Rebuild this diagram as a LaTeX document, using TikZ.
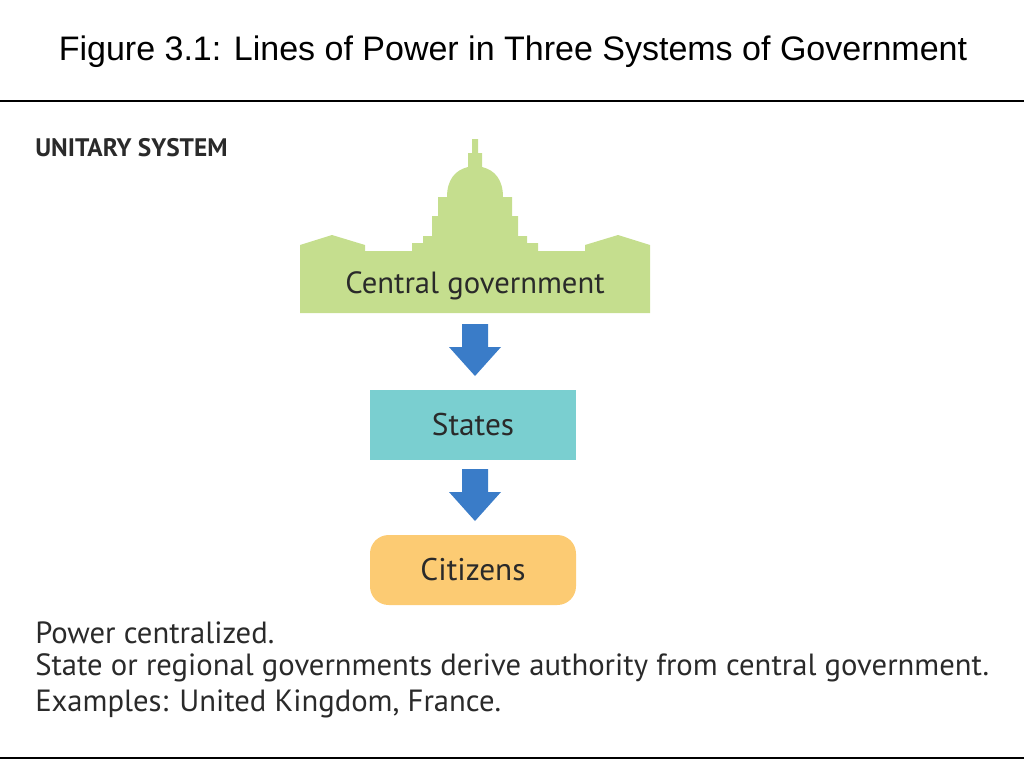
\documentclass[tikz,border=0pt]{standalone}
\usepackage{fontspec}
\setmainfont{Liberation Sans}
\newfontfamily\bodyf{PT Sans}
\usetikzlibrary{arrows.meta}
\definecolor{capg}{HTML}{C5DE8E}
\definecolor{stat}{HTML}{7ACFD0}
\definecolor{citz}{HTML}{FCCB73}
\definecolor{arr}{HTML}{3A7CC8}
\definecolor{txt}{HTML}{2A2A2A}
\tikzset{
  body/.style={font=\bodyf\fontsize{23}{27}\selectfont, text=txt},
  blk/.style={minimum width=154.5pt, minimum height=52.5pt, inner sep=0pt, font=\bodyf\fontsize{23.5}{27}\selectfont, text=txt},
  bluearr/.style={fill=arr, draw=none}
}
\begin{document}
\begin{tikzpicture}[x=0.75pt,y=-0.75pt]
\useasboundingbox (0,0) rectangle (1024,768);
\node (title) at (513,52) {\fontsize{25.5}{30}\selectfont Figure 3.1: Lines of Power in Three Systems of Government};
\draw[line width=0.8pt] (0,101) -- (1024,101);
\draw[line width=0.8pt] (0,758) -- (1024,758);
\node[anchor=west, inner sep=0pt, font=\bodyf\bfseries\fontsize{19}{22}\selectfont, text=txt] (head) at (35,148) {UNITARY SYSTEM};
% capitol
\fill[capg] (300,313) -- (300,245) -- (332,235) -- (365,245) -- (365,251) -- (412,251) -- (412,243) -- (423,243) -- (423,236) -- (432,236) -- (432,216) -- (438,216) -- (438,197) -- (447,197)
  .. controls (447,180) and (455,170) .. (468,167) -- (468,153) -- (472,153) -- (472,139) -- (478,139) -- (478,153) -- (482,153) -- (482,167)
  .. controls (495,170) and (503,180) .. (503,197) -- (512,197) -- (512,216) -- (518,216) -- (518,236) -- (527,236) -- (527,243) -- (538,243) -- (538,251) -- (585,251) -- (585,245) -- (618,235) -- (650,245) -- (650,313) -- cycle;
\node[font=\bodyf\fontsize{23}{27}\selectfont, text=txt] (cg) at (475,286) {Central government};
\node[blk, fill=stat] (st) at (473,425) {States};
\node[blk, fill=citz, rounded corners=14pt] (ci) at (473,570) {Citizens};
% arrows
\fill[bluearr] (462,324) -- (488,324) -- (488,347) -- (501,347) -- (475,376) -- (449,347) -- (462,347) -- cycle;
\fill[bluearr] (462,469) -- (488,469) -- (488,492) -- (501,492) -- (475,521) -- (449,492) -- (462,492) -- cycle;
\node[body, anchor=west, inner sep=0pt] (l1) at (35,633) {Power centralized.};
\node[body, anchor=west, inner sep=0pt] (l2) at (35,668) {State or regional governments derive authority from central government.};
\node[body, anchor=west, inner sep=0pt] (l3) at (35,704) {Examples: United Kingdom, France.};
\end{tikzpicture}
\end{document}
